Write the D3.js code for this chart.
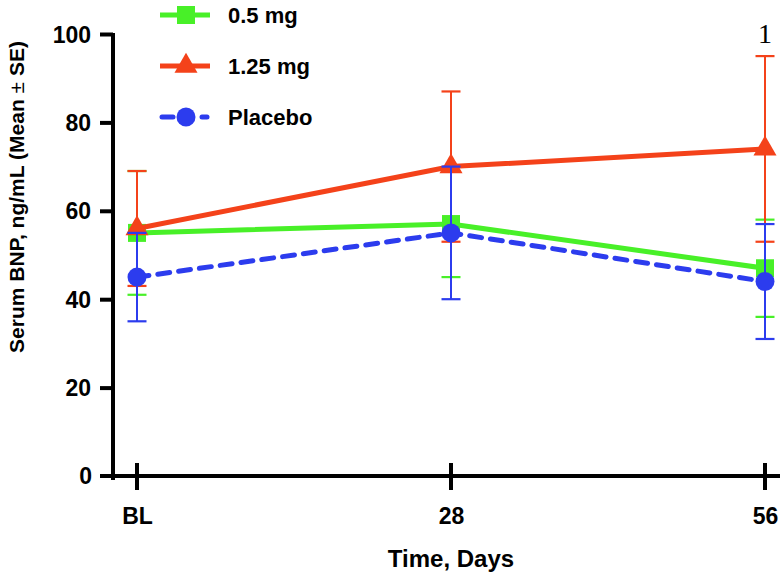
<!DOCTYPE html>
<html>
<head>
<meta charset="utf-8">
<script src="https://cdn.jsdelivr.net/npm/d3@7"></script>
<style>
  body { margin: 0; background: #fff; }
  svg { display: block; font-family: "Liberation Sans", Arial, sans-serif; }
</style>
</head>
<body>
<svg id="chart" width="783" height="577"></svg>
<script>
// ---- data ----
const days = [0, 28, 56];
const dayLabels = ["BL", "28", "56"];
const yTicks = [0, 20, 40, 60, 80, 100];

const series05Mean = [55, 57, 47];
const series05SE = [14, 12, 11];
const series125Mean = [56, 70, 74];
const series125SE = [13, 17, 21];
const placeboMean = [45, 55, 44];
const placeboSE = [10, 15, 13];

const seriesNames = ["0.5 mg", "1.25 mg", "Placebo"];
const seriesColors = ["#48f028", "#f4421a", "#2c3cee"];
const annotationText = "1";

// ---- build ----
const svg = d3.select("#chart");
const x = d3.scaleLinear().domain([0, 56]).range([137, 765]);
const y = d3.scaleLinear().domain([0, 100]).range([476, 34]);

const series = [
  { name: seriesNames[0], mean: series05Mean, se: series05SE, color: seriesColors[0], shape: "square", dash: null },
  { name: seriesNames[1], mean: series125Mean, se: series125SE, color: seriesColors[1], shape: "triangle", dash: null },
  { name: seriesNames[2], mean: placeboMean, se: placeboSE, color: seriesColors[2], shape: "circle", dash: "12,9" }
];

// Axes
const yAxis = d3.axisLeft(y).tickValues(yTicks.filter(d => d > 0)).tickSize(13).tickPadding(9).tickSizeOuter(0);
const gy = svg.append("g").attr("transform", "translate(113,0)").call(yAxis);
gy.select(".domain").remove();
gy.selectAll(".tick line").attr("stroke", "#000").attr("stroke-width", 4);
gy.selectAll(".tick text").attr("font-size", 23).attr("font-weight", "bold").attr("fill", "#000")
  .attr("font-family", "'Liberation Sans', Arial, sans-serif").attr("dy", "0.35em");

// y zero label
svg.append("text").attr("x", 92).attr("y", y(0)).attr("dy", "0.35em").attr("text-anchor", "end")
  .attr("font-size", 23).attr("font-weight", "bold").text("0");

// y axis line
svg.append("line").attr("x1", 113).attr("x2", 113).attr("y1", y(100) - 1).attr("y2", y(0) + 4)
  .attr("stroke", "#000").attr("stroke-width", 4);

// x axis
const xAxis = d3.axisBottom(x).tickValues(days).tickFormat((d, i) => dayLabels[i]).tickSize(0).tickPadding(32);
const gx = svg.append("g").attr("transform", `translate(0,${y(0)})`).call(xAxis);
gx.select(".domain").remove();
gx.selectAll(".tick text").attr("font-size", 23).attr("font-weight", "bold").attr("fill", "#000")
  .attr("font-family", "'Liberation Sans', Arial, sans-serif");
svg.append("line").attr("x1", 100).attr("x2", 780).attr("y1", y(0)).attr("y2", y(0))
  .attr("stroke", "#000").attr("stroke-width", 4);
svg.selectAll(".xtick").data(days).enter().append("line")
  .attr("x1", d => x(d)).attr("x2", d => x(d)).attr("y1", y(0) - 13).attr("y2", y(0) + 14)
  .attr("stroke", "#000").attr("stroke-width", 4);

// axis titles
svg.append("text").attr("x", 451).attr("y", 567).attr("text-anchor", "middle")
  .attr("font-size", 24).attr("font-weight", "bold").text("Time, Days");
const yt = svg.append("text").attr("transform", "translate(24,197) rotate(-90)").attr("text-anchor", "middle")
  .attr("font-size", 21).attr("font-weight", "bold");
yt.append("tspan").text("Serum BNP, ng/mL (Mean ");
yt.append("tspan").attr("font-weight", "normal").text("\u00B1");
yt.append("tspan").text(" SE)");

// marker drawer
function drawMarker(g, shape, cx, cy, color) {
  if (shape === "square") {
    g.append("rect").attr("x", cx - 9).attr("y", cy - 9).attr("width", 18).attr("height", 18).attr("fill", color);
  } else if (shape === "triangle") {
    g.append("path").attr("d", d3.symbol(d3.symbolTriangle, 230)()).attr("transform", `translate(${cx},${cy})`).attr("fill", color);
  } else {
    g.append("circle").attr("cx", cx).attr("cy", cy).attr("r", 9.5).attr("fill", color);
  }
}

// series
series.forEach(s => {
  const g = svg.append("g");
  const pts = days.map((d, i) => ({ d, m: s.mean[i], e: s.se[i] }));
  // error bars
  pts.forEach(p => {
    g.append("line").attr("x1", x(p.d)).attr("x2", x(p.d)).attr("y1", y(p.m - p.e)).attr("y2", y(p.m + p.e))
      .attr("stroke", s.color).attr("stroke-width", 2);
    [p.m - p.e, p.m + p.e].forEach(v => {
      g.append("line").attr("x1", x(p.d) - 9.5).attr("x2", x(p.d) + 9.5).attr("y1", y(v)).attr("y2", y(v))
        .attr("stroke", s.color).attr("stroke-width", 2.2);
    });
  });
  // line
  const line = d3.line().x(p => x(p.d)).y(p => y(p.m));
  g.append("path").datum(pts).attr("d", line).attr("fill", "none").attr("stroke", s.color)
    .attr("stroke-width", 5).attr("stroke-dasharray", s.dash).attr("stroke-linecap", s.dash ? "round" : "butt");
  pts.forEach(p => drawMarker(g, s.shape, x(p.d), y(p.m), s.color));
});

// annotation
svg.append("text").attr("x", x(56)).attr("y", 43).attr("text-anchor", "middle")
  .attr("font-family", "'Liberation Serif', 'Times New Roman', serif").attr("font-size", 28).text(annotationText);

// legend
series.forEach((s, i) => {
  const ly = 15 + i * 51;
  const g = svg.append("g");
  if (s.dash) {
    g.append("line").attr("x1", 162).attr("x2", 173).attr("y1", ly).attr("y2", ly).attr("stroke", s.color).attr("stroke-width", 5).attr("stroke-linecap", "round");
    g.append("line").attr("x1", 202).attr("x2", 207).attr("y1", ly).attr("y2", ly).attr("stroke", s.color).attr("stroke-width", 5).attr("stroke-linecap", "round");
  } else {
    g.append("line").attr("x1", 160).attr("x2", 210).attr("y1", ly).attr("y2", ly).attr("stroke", s.color).attr("stroke-width", 5);
  }
  drawMarker(g, s.shape, 186, ly, s.color);
  g.append("text").attr("x", 228).attr("y", ly).attr("dy", "0.35em").attr("font-size", 22).attr("font-weight", "bold").text(s.name);
});
</script>
</body>
</html>
